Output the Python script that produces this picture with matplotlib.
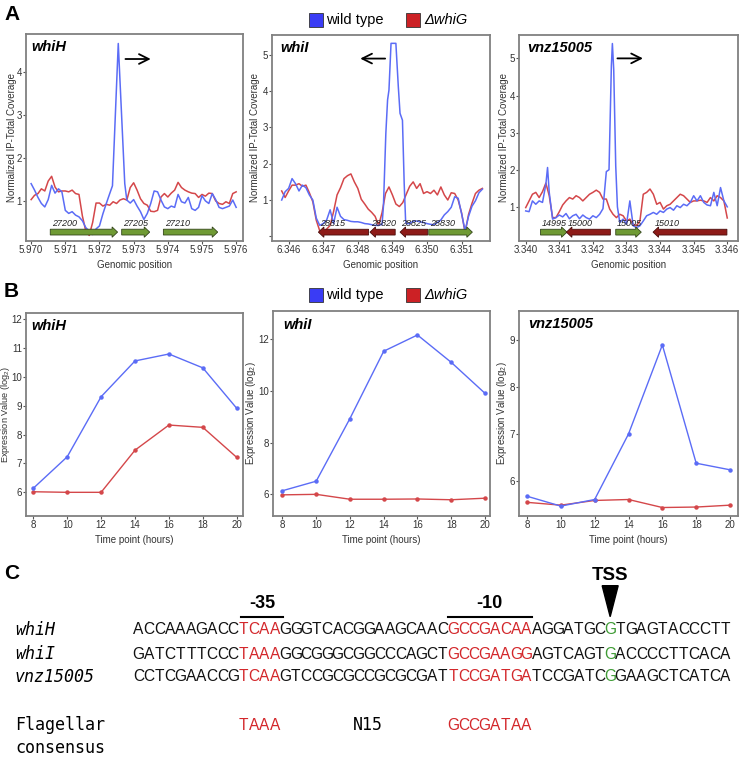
import numpy as np
import matplotlib
matplotlib.use('Agg')
import matplotlib.pyplot as plt
from matplotlib.patches import Rectangle, Polygon, FancyArrow
from matplotlib.lines import Line2D

plt.rcParams['font.family'] = ['Liberation Sans', 'DejaVu Sans']

W, H = 747, 758
fig = plt.figure(figsize=(W / 100, H / 100), dpi=100)

BLUE = '#5b6cf6'
RED = '#d4474a'
LEG_BLUE = '#3a3cf5'
LEG_RED = '#cc2125'
GREEN_GENE = '#6f9a34'
RED_GENE = '#8e1b18'
SEQ_RED = '#d3272b'
SEQ_GREEN = '#3f9b35'

# ---------------- Panel A data (normalized IP-total coverage) ----------------
whiH_mut_pos = np.round(5.9700 + 0.0001 * np.arange(61), 5)
whiH_mut = [1.03, 1.13, 1.17, 1.28, 1.23, 1.46, 1.57, 1.32, 1.21, 1.23,
            1.23, 1.21, 1.25, 1.17, 1.15, 0.65, 0.30, 0.20, 0.50, 0.95,
            0.95, 0.88, 0.92, 0.90, 0.98, 0.94, 1.02, 1.05, 1.02, 1.31,
            1.42, 1.25, 1.05, 0.94, 0.90, 0.76, 0.75, 0.78, 1.09, 1.17,
            1.09, 1.18, 1.25, 1.43, 1.31, 1.25, 1.21, 1.18, 1.17, 1.08,
            1.15, 1.11, 1.18, 1.17, 1.00, 0.94, 0.92, 0.98, 0.94, 1.17, 1.21]
whiH_wt_pos = (list(np.round(5.9700 + 0.0001 * np.arange(24), 5))
               + [5.97238, 5.97255, 5.97274]
               + list(np.round(5.9728 + 0.0001 * np.arange(33), 5)))
whiH_wt = [1.40, 1.25, 1.08, 0.94, 0.86, 1.03, 1.36, 1.18, 1.28, 1.21,
           0.78, 0.71, 0.75, 0.67, 0.63, 0.54, 0.38, 0.30, 0.22, 0.35,
           0.42, 0.70, 0.94, 1.17,
           1.35, 4.65, 1.40,
           1.02, 0.95, 1.03, 0.88, 0.75, 0.57, 0.71, 0.94, 1.23, 1.21,
           1.02, 0.86, 0.82, 0.88, 0.85, 1.15, 0.98, 0.95, 1.08, 0.82,
           0.78, 0.85, 1.12, 1.00, 0.94, 1.17, 1.03, 0.85, 0.82, 0.85,
           0.88, 1.02, 0.85]

whiI_mut_pos = np.round(6.3458 + 0.0001 * np.arange(59), 5)
whiI_mut = [1.25, 1.07, 1.25, 1.41, 1.41, 1.45, 1.38, 1.41, 1.20, 0.95,
            0.44, 0.15, 0.05, 0.20, 0.30, 0.68, 1.14, 1.34, 1.59, 1.67,
            1.72, 1.50, 1.32, 1.02, 0.89, 0.75, 0.66, 0.55, 0.30, 0.65,
            1.18, 1.36, 1.14, 0.89, 0.82, 0.93, 1.16, 1.38, 1.50, 1.32,
            1.45, 1.18, 1.23, 1.18, 1.27, 1.14, 1.36, 1.14, 1.00, 1.20,
            1.18, 1.00, 0.64, 0.10, 0.60, 0.91, 1.18, 1.27, 1.32]
whiI_wt_pos = (list(np.round(6.3458 + 0.0001 * np.arange(30), 5))
               + [6.34874, 6.34881, 6.34886, 6.34890, 6.34896, 6.34910,
                  6.34917, 6.34922, 6.34929, 6.34934, 6.34938]
               + list(np.round(6.3494 + 0.0001 * np.arange(23), 5)))
whiI_wt = [1.00, 1.23, 1.32, 1.59, 1.45, 1.25, 1.41, 1.34, 1.14, 1.00,
           0.50, 0.30, 0.35, 0.45, 0.73, 0.35, 0.80, 0.55, 0.46, 0.44,
           0.41, 0.40, 0.40, 0.38, 0.35, 0.34, 0.32, 0.30, 0.30, 0.33,
           0.82, 2.84, 3.76, 4.03, 5.32, 5.32, 4.13, 3.39, 3.20, 1.46, 0.45,
           0.35, 0.35, 0.42, 0.42, 0.40, 0.38, 0.35, 0.33, 0.32, 0.38,
           0.45, 0.59, 0.68, 0.80, 1.09, 1.05, 0.62, 0.15, 0.55, 0.83,
           0.98, 1.20, 1.30]

vnz_mut_pos = np.round(3.3400 + 0.0001 * np.arange(61), 5)
vnz_mut = [0.98, 1.16, 1.34, 1.39, 1.25, 1.41, 1.64, 1.30, 0.71, 0.71,
           0.87, 1.05, 1.16, 1.25, 1.21, 1.30, 1.25, 1.16, 1.25, 1.34,
           1.39, 1.45, 1.39, 1.21, 1.21, 0.94, 0.80, 0.71, 0.80, 0.76,
           0.62, 0.67, 0.53, 0.49, 0.62, 1.34, 1.39, 1.48, 1.34, 1.07,
           1.12, 0.94, 1.03, 1.07, 1.16, 1.25, 1.34, 1.30, 1.21, 1.12,
           1.16, 1.16, 1.18, 1.16, 1.12, 1.25, 1.16, 1.30, 1.25, 1.16, 0.70]
vnz_wt_pos = (list(np.round(3.3400 + 0.0001 * np.arange(7), 5))
              + [3.34065]
              + list(np.round(3.3407 + 0.0001 * np.arange(18), 5))
              + [3.34248, 3.34255, 3.34258, 3.34262, 3.34268, 3.34273]
              + list(np.round(3.3428 + 0.0001 * np.arange(33), 5)))
vnz_wt = [0.89, 0.87, 1.16, 1.07, 1.16, 1.12, 1.61,
          2.06,
          1.39, 0.67, 0.71, 0.78, 0.73, 0.82, 0.68, 0.76, 0.80, 0.68,
          0.78, 0.71, 0.67, 0.76, 0.71, 0.80, 0.95, 1.95,
          2.00, 4.80, 5.40, 4.70, 2.10, 1.00,
          0.58, 0.67, 0.53, 1.16, 0.49, 0.44, 0.49, 0.62, 0.76, 0.80,
          0.85, 0.80, 0.89, 0.85, 0.94, 0.98, 0.91, 1.03, 0.98, 1.07,
          1.03, 1.12, 1.30, 1.16, 1.30, 1.12, 1.05, 1.03, 1.39, 1.03,
          1.52, 1.16, 1.00]

# genes: name, start, end, strand
whiH_genes = ['27200', '27205', '27210']
whiH_gstart = [5.97056, 5.97265, 5.97387]
whiH_gend = [5.97253, 5.97347, 5.97546]
whiH_strand = [1, 1, 1]
whiI_genes = ['28815', '28820', '28825', '28830']
whiI_gstart = [6.34686, 6.34835, 6.34922, 6.35005]
whiI_gend = [6.34831, 6.34908, 6.35002, 6.35131]
whiI_strand = [-1, -1, -1, 1]
vnz_genes = ['14995', '15000', '15005', '15010']
vnz_gstart = [3.34044, 3.34121, 3.34268, 3.34379]
vnz_gend = [3.34123, 3.34252, 3.34344, 3.34599]
vnz_strand = [1, -1, 1, -1]

# ---------------- Panel B data (expression, log2) ----------------
times = [8, 10, 12, 14, 16, 18, 20]
whiH_expr_wt = [6.14, 7.23, 9.31, 10.55, 10.79, 10.31, 8.91]
whiH_expr_mut = [6.02, 6.00, 6.00, 7.46, 8.33, 8.25, 7.21]
whiI_expr_wt = [6.13, 6.50, 8.93, 11.54, 12.17, 11.11, 9.91]
whiI_expr_mut = [5.97, 5.99, 5.80, 5.80, 5.81, 5.78, 5.84]
vnz_expr_wt = [5.68, 5.47, 5.61, 7.00, 8.89, 6.38, 6.24]
vnz_expr_mut = [5.55, 5.49, 5.59, 5.61, 5.44, 5.45, 5.49]

# ---------------- Panel C data ----------------
seq_names = ['whiH', 'whiI', 'vnz15005']
seqs = ['ACCAAAGACCTCAAGGGTCACGGAAGCAACGCCGACAAAGGATGCGTGAGTACCCTT',
        'GATCTTTCCCTAAAGGCGGGCGGCCCAGCTGCCGAAGGAGTCAGTGACCCCTTCACA',
        'CCTCGAACCGTCAAGTCCGCGCCGCGCGATTCCGATGATCCGATCGGAAGCTCATCA']
box35 = (10, 14)
box10 = (30, 38)
tss_idx = 45
consensus35 = 'TAAA'
consensus_spacer = 'N15'
consensus10 = 'GCCGATAA'


def axes_px(l, t, r, b):
    return fig.add_axes([l / W, 1 - b / H, (r - l) / W, (b - t) / H])


def ftext(x, y, s, **kw):
    return fig.text(x / W, 1 - y / H, s, **kw)


def style_axes(ax):
    for sp in ax.spines.values():
        sp.set_color('#808080')
        sp.set_linewidth(1.3)
    ax.tick_params(direction='out', length=2.2, width=0.8, color='#555555',
                   labelsize=7, labelcolor='#333333', pad=0.6)


# ---------------- Panel A ----------------
A_specs = [
    dict(box=(26, 34, 243, 241), name='whiH', mut=(whiH_mut_pos, whiH_mut),
         wt=(whiH_wt_pos, whiH_wt), genes=(whiH_genes, whiH_gstart, whiH_gend, whiH_strand),
         xlim=(5.96985, 5.9762), ylim=(0.07, 4.87), xt=np.round(np.arange(5.970, 5.9765, 0.001), 3),
         yt=[1, 2, 3, 4], ytl=['1', '2', '3', '4'], arrow=(5.97276, 5.97350, 4.29),
         ylx=-0.040, tpos=(0.026, 0.939)),
    dict(box=(272, 35, 490, 241), name='whiI', mut=(whiI_mut_pos, whiI_mut),
         wt=(whiI_wt_pos, whiI_wt), genes=(whiI_genes, whiI_gstart, whiI_gend, whiI_strand),
         xlim=(6.34552, 6.35182), ylim=(-0.13, 5.55), xt=np.round(np.arange(6.346, 6.3515, 0.001), 3),
         yt=[0, 1, 2, 3, 4, 5], ytl=['', '1', '2', '3', '4', '5'], arrow=(6.34879, 6.34807, 4.9),
         ylx=-0.057, tpos=(0.04, 0.938)),
    dict(box=(519, 35, 738, 241), name='vnz15005', mut=(vnz_mut_pos, vnz_mut),
         wt=(vnz_wt_pos, vnz_wt), genes=(vnz_genes, vnz_gstart, vnz_gend, vnz_strand),
         xlim=(3.3398, 3.34632), ylim=(0.08, 5.63), xt=np.round(np.arange(3.340, 3.3465, 0.001), 3),
         yt=[1, 2, 3, 4, 5], ytl=['1', '2', '3', '4', '5'], arrow=(3.34273, 3.34349, 5.0),
         ylx=-0.045, tpos=(0.038, 0.938)),
]

for sp in A_specs:
    ax = axes_px(*sp['box'])
    style_axes(ax)
    ax.plot(sp['mut'][0], sp['mut'][1], color=RED, lw=1.1, zorder=3)
    ax.plot(sp['wt'][0], sp['wt'][1], color=BLUE, lw=1.1, zorder=3)
    ax.set_xlim(*sp['xlim'])
    ax.set_ylim(*sp['ylim'])
    ax.set_xticks(sp['xt'])
    ax.set_xticklabels([f'{v:.3f}' for v in sp['xt']])
    ax.set_yticks(sp['yt'])
    ax.set_yticklabels(sp['ytl'])
    ax.set_xlabel('Genomic position', fontsize=7, color='#333333', labelpad=3.5)
    ax.set_ylabel('Normalized IP-Total Coverage', fontsize=7, color='#333333')
    ax.yaxis.set_label_coords(sp['ylx'], 0.5)
    ax.text(sp['tpos'][0], sp['tpos'][1], sp['name'], transform=ax.transAxes,
            fontsize=10.5, fontweight='bold', style='italic', va='center', ha='left')
    # direction arrow
    x0, x1, yy = sp['arrow']
    ax.annotate('', xy=(x1, yy), xytext=(x0, yy),
                arrowprops=dict(arrowstyle='->,head_length=0.7,head_width=0.35',
                                lw=1.3, color='black', shrinkA=0, shrinkB=0), zorder=5)
    # genes
    names, gs, ge, st = sp['genes']
    trans = ax.get_xaxis_transform()
    xr = sp['xlim'][1] - sp['xlim'][0]
    hl = xr * 5.5 / 217
    for n, s0, e0, d in zip(names, gs, ge, st):
        if d > 0:
            arr = FancyArrow(s0, 0.043, e0 - s0, 0, width=0.028, head_width=0.05,
                             head_length=hl, length_includes_head=True, transform=trans,
                             facecolor=GREEN_GENE, edgecolor='#33451a', lw=0.6, zorder=4)
        else:
            arr = FancyArrow(e0, 0.043, s0 - e0, 0, width=0.028, head_width=0.05,
                             head_length=hl, length_includes_head=True, transform=trans,
                             facecolor=RED_GENE, edgecolor='#4a0c0a', lw=0.6, zorder=4)
        ax.add_patch(arr)
        ax.text(s0 + xr * 0.006, 0.083, n, transform=trans, fontsize=6.5, style='italic',
                color='#222222', ha='left', va='center', zorder=6)

# ---------------- Panel B ----------------
B_specs = [
    dict(box=(26, 313, 243, 516), name='whiH', wt=whiH_expr_wt, mut=whiH_expr_mut,
         xlim=(7.57, 20.37), ylim=(5.18, 12.21), yt=[6, 7, 8, 9, 10, 11, 12],
         ylx=-0.066, ylfs=6.6, tpos=(0.026, 0.935)),
    dict(box=(273, 311, 490, 516), name='whiI', wt=whiI_expr_wt, mut=whiI_expr_mut,
         xlim=(7.44, 20.3), ylim=(5.15, 13.1), yt=[6, 8, 10, 12],
         ylx=-0.07, ylfs=7, tpos=(0.047, 0.932)),
    dict(box=(519, 311, 738, 516), name='vnz15005', wt=vnz_expr_wt, mut=vnz_expr_mut,
         xlim=(7.53, 20.47), ylim=(5.26, 9.61), yt=[6, 7, 8, 9],
         ylx=-0.045, ylfs=7, tpos=(0.043, 0.935)),
]

for sp in B_specs:
    ax = axes_px(*sp['box'])
    style_axes(ax)
    ax.plot(times, sp['mut'], color=RED, lw=1.0, marker='o', ms=2.2, zorder=3)
    ax.plot(times, sp['wt'], color=BLUE, lw=1.0, marker='o', ms=2.2, zorder=3)
    ax.set_xlim(*sp['xlim'])
    ax.set_ylim(*sp['ylim'])
    ax.set_xticks(times)
    ax.set_yticks(sp['yt'])
    ax.set_xlabel('Time point (hours)', fontsize=7, color='#333333', labelpad=3.5)
    ax.set_ylabel(r'Expression Value (log$_{\mathregular{2}}$)', fontsize=sp['ylfs'],
                  color='#333333')
    ax.yaxis.set_label_coords(sp['ylx'], 0.5)
    ax.text(sp['tpos'][0], sp['tpos'][1], sp['name'], transform=ax.transAxes,
            fontsize=10.5, fontweight='bold', style='italic', va='center', ha='left')

# ---------------- Legends ----------------
for ycen in (19.7, 295.0):
    fig.add_artist(Rectangle((309.3 / W, 1 - (ycen + 7) / H), 14 / W, 14 / H,
                             transform=fig.transFigure, facecolor=LEG_BLUE,
                             edgecolor='#333333', lw=0.6))
    ftext(326, ycen, 'wild type', fontsize=10.5, va='center', ha='left')
    fig.add_artist(Rectangle((406 / W, 1 - (ycen + 7) / H), 14 / W, 14 / H,
                             transform=fig.transFigure, facecolor=LEG_RED,
                             edgecolor='#333333', lw=0.6))
    ftext(424, ycen, 'ΔwhiG', fontsize=10.5, style='italic', va='center', ha='left')

# Panel letters
ftext(4, 14.2, 'A', fontsize=15, fontweight='bold', va='center', ha='left')
ftext(4, 291.7, 'B', fontsize=15, fontweight='bold', va='center', ha='left')
ftext(4, 573.3, 'C', fontsize=15, fontweight='bold', va='center', ha='left')

# ---------------- Panel C ----------------
x_start, x_end = 133.3, 730.7
pitch = (x_end - x_start) / len(seqs[0])
row_y = [630, 654.3, 676.7]
SEQ_FS = 11.2


def char_color(i):
    if box35[0] <= i < box35[1] or box10[0] <= i < box10[1]:
        return SEQ_RED
    if i == tss_idx:
        return SEQ_GREEN
    return '#111111'


for name, seq, yy in zip(seq_names, seqs, row_y):
    ftext(15, yy, name, fontsize=12, family='DejaVu Sans Mono', style='italic',
          va='center', ha='left')
    for i, ch in enumerate(seq):
        ftext(x_start + pitch * (i + 0.5), yy, ch, fontsize=SEQ_FS, color=char_color(i),
              va='center', ha='center')

# -35 / -10 marks
for (a, b), lab in ((box35, '-35'), (box10, '-10')):
    xa = x_start + pitch * a + (3 if lab == '-35' else 0)
    xb = x_start + pitch * b + (3 if lab == '-35' else 0)
    fig.add_artist(Line2D([xa / W, xb / W], [1 - 616.7 / H, 1 - 616.7 / H],
                          transform=fig.transFigure, color='black', lw=1.5))
    ftext((xa + xb) / 2, 604, lab, fontsize=13, fontweight='bold', va='center', ha='center')

# TSS
xt = x_start + pitch * (tss_idx + 0.5)
ftext(xt, 576, 'TSS', fontsize=13.5, fontweight='bold', va='center', ha='center')
fig.add_artist(Polygon([((xt - 8) / W, 1 - 585.7 / H), ((xt + 8) / W, 1 - 585.7 / H),
                        (xt / W, 1 - 616.7 / H)], closed=True, transform=fig.transFigure,
                       facecolor='black', edgecolor='black'))

# consensus
ftext(15, 725, 'Flagellar', fontsize=12, family='DejaVu Sans Mono', va='center', ha='left')
ftext(15, 748.3, 'consensus', fontsize=12, family='DejaVu Sans Mono', va='center', ha='left')
for i, ch in enumerate(consensus35):
    ftext(x_start + pitch * (box35[0] + i + 0.5), 725, ch, fontsize=SEQ_FS, color=SEQ_RED,
          va='center', ha='center')
ftext(353.3, 725, consensus_spacer, fontsize=12, family='DejaVu Sans Mono', va='center', ha='left')
for i, ch in enumerate(consensus10):
    ftext(x_start + pitch * (box10[0] + i + 0.5), 725, ch, fontsize=SEQ_FS, color=SEQ_RED,
          va='center', ha='center')

fig.savefig('out.png', dpi=100)
